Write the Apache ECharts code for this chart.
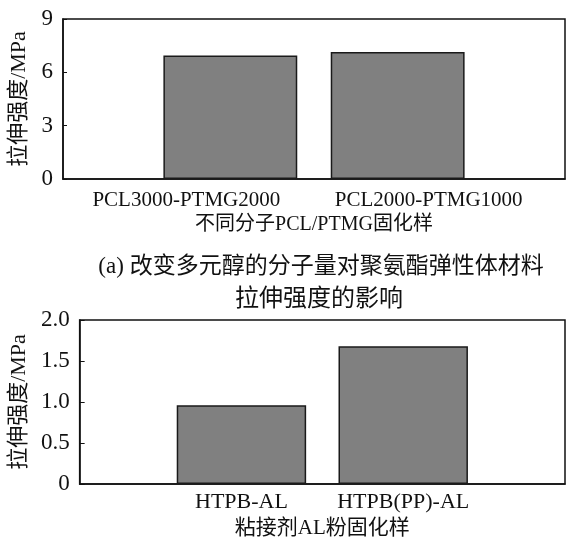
<!DOCTYPE html>
<html>
<head>
<meta charset="utf-8">
<script src="https://cdn.jsdelivr.net/npm/echarts@6/dist/echarts.min.js"></script>
<style>
  html, body { margin: 0; padding: 0; background: #fff; }
  #chart { width: 568px; height: 540px; }
</style>
</head>
<body>
<div id="chart"></div>
<script>
// ---- data ----
const topCategories = ['PCL3000-PTMG2000', 'PCL2000-PTMG1000'];
const topValues = [6.95, 7.15];
const topYTicks = ['0', '3', '6', '9'];
const bottomCategories = ['HTPB-AL', 'HTPB(PP)-AL'];
const bottomValues = [0.96, 1.68];
const bottomYTicks = ['0', '0.5', '1.0', '1.5', '2.0'];
const yName = '拉伸强度/MPa';
const topXName = '不同分子PCL/PTMG固化样';
const bottomXName = '粘接剂AL粉固化样';
const captionLine1 = '(a) 改变多元醇的分子量对聚氨酯弹性体材料';
const captionLine2 = '拉伸强度的影响';

const FONT = "'Liberation Serif', 'Noto Sans CJK SC', serif";
const TXT = '#111';

function padded(arr) { return [''].concat(arr, ['']); }
function paddedVals(arr) { return [null].concat(arr, [null]); }

const chart = echarts.init(document.getElementById('chart'), null, { renderer: 'canvas' });

const axisLineStyle = { color: '#111', width: 1.5 };

chart.setOption({
  animation: false,
  backgroundColor: '#fff',
  title: [
    { text: captionLine1, left: 316, top: 250, textAlign: 'center',
      textStyle: { fontFamily: FONT, fontSize: 23, fontWeight: 'normal', color: TXT } },
    { text: captionLine2, left: 314, top: 283, textAlign: 'center',
      textStyle: { fontFamily: FONT, fontSize: 24, fontWeight: 'normal', color: TXT } }
  ],
  grid: [
    { left: 63, top: 19, width: 503, height: 160, show: true, borderColor: '#111', borderWidth: 1.5, backgroundColor: 'transparent' },
    { left: 78, top: 320, width: 488, height: 166, show: true, borderColor: '#111', borderWidth: 1.5, backgroundColor: 'transparent' }
  ],
  xAxis: [
    {
      gridIndex: 0, type: 'category', data: padded(topCategories), boundaryGap: false,
      axisLine: { lineStyle: axisLineStyle }, axisTick: { show: false },
      axisLabel: {
        interval: 0, margin: 11, color: TXT, fontFamily: FONT, fontSize: 21,
        formatter: function (v) {
          if (v === topCategories[0]) return '{a|' + v + '}';
          if (v === topCategories[1]) return '{b|' + v + '}';
          return '';
        },
        rich: {
          a: { fontFamily: FONT, fontSize: 21, color: TXT, padding: [0, 88, 0, 0] },
          b: { fontFamily: FONT, fontSize: 21, color: TXT, padding: [0, 0, 0, 62] }
        }
      },
      name: topXName, nameLocation: 'middle', nameGap: 36,
      nameTextStyle: { fontFamily: FONT, fontSize: 20, color: TXT }
    },
    {
      gridIndex: 1, type: 'category', data: padded(bottomCategories), boundaryGap: false,
      axisLine: { lineStyle: axisLineStyle }, axisTick: { show: false },
      axisLabel: { interval: 0, margin: 7, color: TXT, fontFamily: FONT, fontSize: 22 },
      name: bottomXName, nameLocation: 'middle', nameGap: 34,
      nameTextStyle: { fontFamily: FONT, fontSize: 21, color: TXT }
    }
  ],
  yAxis: [
    {
      gridIndex: 0, type: 'value', min: 0, max: 9, interval: 3,
      axisLine: { show: true, lineStyle: axisLineStyle },
      axisTick: { show: true, inside: true, length: 4, lineStyle: { color: '#111' } },
      splitLine: { show: false },
      axisLabel: { margin: 10, color: TXT, fontFamily: FONT, fontSize: 23,
        formatter: function (v) { return topYTicks[Math.round(v / 3)]; } },
      name: yName, nameLocation: 'middle', nameGap: 33, nameRotate: 90,
      nameTextStyle: { fontFamily: FONT, fontSize: 22, color: TXT }
    },
    {
      gridIndex: 1, type: 'value', min: 0, max: 2, interval: 0.5,
      axisLine: { show: true, lineStyle: axisLineStyle },
      axisTick: { show: true, inside: true, length: 5, lineStyle: { color: '#111' } },
      splitLine: { show: false },
      axisLabel: { margin: 10, color: TXT, fontFamily: FONT, fontSize: 23,
        formatter: function (v) { return bottomYTicks[Math.round(v / 0.5)]; } },
      name: yName, nameLocation: 'middle', nameGap: 45, nameRotate: 90,
      nameTextStyle: { fontFamily: FONT, fontSize: 22, color: TXT }
    }
  ],
  series: [
    {
      type: 'bar', xAxisIndex: 0, yAxisIndex: 0, data: paddedVals(topValues), barWidth: '80%',
      itemStyle: { color: '#808080', borderColor: '#1a1a1a', borderWidth: 1.5 }
    },
    {
      type: 'bar', xAxisIndex: 1, yAxisIndex: 1, data: paddedVals(bottomValues), barWidth: '80%',
      itemStyle: { color: '#808080', borderColor: '#1a1a1a', borderWidth: 1.5 }
    }
  ]
});
</script>
</body>
</html>
